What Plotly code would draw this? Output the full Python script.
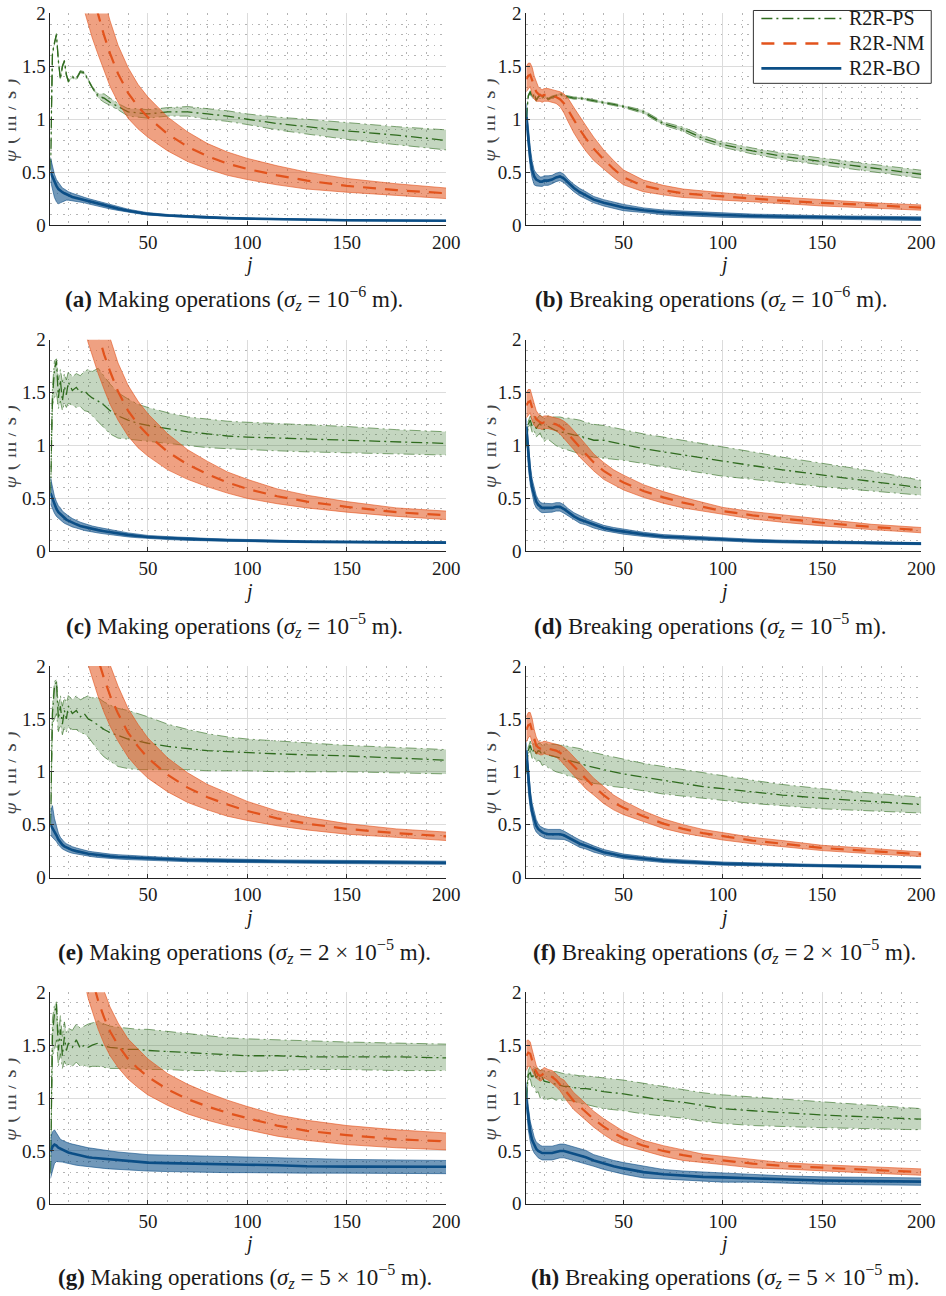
import plotly.graph_objects as go

# ---------------------------------------------------------------------------
# Sampled iterations j and the three estimators per panel (mean, lower, upper)
# ---------------------------------------------------------------------------
J = [1, 2, 3, 4, 5, 6, 7, 8, 9, 10, 12, 14, 16, 18, 20, 22, 25, 28, 31, 35,
     40, 45, 50, 60, 70, 80, 90, 100, 115, 130, 150, 175, 200]

# (a) Making, sigma_z = 1e-6
a_ps_mean = [0.52, 1.62, 1.72, 1.80, 1.55, 1.38, 1.50, 1.55, 1.42, 1.36, 1.40, 1.38, 1.45, 1.44, 1.37, 1.30, 1.22, 1.20, 1.16, 1.12, 1.07, 1.06, 1.05, 1.07, 1.07, 1.05, 1.03, 1.00, 0.96, 0.93, 0.89, 0.85, 0.80]
a_ps_lo = [0.51, 1.61, 1.71, 1.79, 1.54, 1.37, 1.49, 1.54, 1.41, 1.35, 1.39, 1.37, 1.44, 1.43, 1.36, 1.29, 1.20, 1.16, 1.13, 1.09, 1.03, 1.02, 1.01, 1.03, 1.03, 1.00, 0.98, 0.95, 0.90, 0.86, 0.81, 0.76, 0.71]
a_ps_hi = [0.53, 1.63, 1.73, 1.81, 1.56, 1.39, 1.51, 1.56, 1.43, 1.37, 1.41, 1.39, 1.46, 1.45, 1.38, 1.31, 1.24, 1.24, 1.20, 1.15, 1.10, 1.10, 1.09, 1.11, 1.12, 1.10, 1.08, 1.05, 1.02, 1.00, 0.97, 0.93, 0.90]
a_nm_mean = [12.0, 9.0, 7.5, 6.5, 5.8, 5.2, 4.7, 4.3, 4.0, 3.7, 3.3, 3.0, 2.7, 2.5, 2.33, 2.19, 1.99, 1.79, 1.62, 1.43, 1.25, 1.12, 1.02, 0.86, 0.74, 0.65, 0.58, 0.53, 0.47, 0.42, 0.37, 0.33, 0.30]
a_nm_lo = [9.7, 7.3, 6.1, 5.3, 4.7, 4.2, 3.8, 3.5, 3.24, 3.0, 2.67, 2.43, 2.19, 2.03, 1.89, 1.77, 1.61, 1.45, 1.31, 1.16, 1.01, 0.91, 0.83, 0.70, 0.60, 0.53, 0.47, 0.43, 0.38, 0.34, 0.31, 0.28, 0.25]
a_nm_hi = [14.3, 10.7, 8.9, 7.7, 6.9, 6.2, 5.6, 5.1, 4.76, 4.4, 3.93, 3.57, 3.21, 2.98, 2.77, 2.61, 2.37, 2.13, 1.93, 1.70, 1.49, 1.33, 1.21, 1.02, 0.88, 0.77, 0.69, 0.63, 0.56, 0.50, 0.44, 0.39, 0.35]
a_bo_mean = [0.50, 0.45, 0.40, 0.37, 0.34, 0.32, 0.31, 0.30, 0.29, 0.28, 0.265, 0.255, 0.245, 0.235, 0.225, 0.215, 0.20, 0.185, 0.17, 0.155, 0.135, 0.12, 0.105, 0.09, 0.08, 0.07, 0.065, 0.06, 0.055, 0.05, 0.045, 0.042, 0.04]
a_bo_lo = [0.42, 0.33, 0.26, 0.22, 0.20, 0.21, 0.22, 0.23, 0.235, 0.235, 0.23, 0.225, 0.215, 0.21, 0.20, 0.19, 0.18, 0.165, 0.152, 0.138, 0.12, 0.107, 0.094, 0.08, 0.071, 0.062, 0.058, 0.053, 0.049, 0.044, 0.04, 0.037, 0.035]
a_bo_hi = [0.64, 0.55, 0.48, 0.43, 0.40, 0.37, 0.35, 0.34, 0.325, 0.315, 0.30, 0.285, 0.275, 0.262, 0.25, 0.24, 0.222, 0.205, 0.19, 0.172, 0.15, 0.133, 0.117, 0.10, 0.089, 0.078, 0.072, 0.067, 0.061, 0.056, 0.05, 0.047, 0.045]

# (b) Breaking, sigma_z = 1e-6
b_ps_mean = [1.00, 1.22, 1.26, 1.20, 1.24, 1.18, 1.21, 1.23, 1.20, 1.22, 1.19, 1.21, 1.22, 1.24, 1.22, 1.21, 1.20, 1.20, 1.19, 1.18, 1.16, 1.14, 1.12, 1.07, 0.96, 0.905, 0.82, 0.76, 0.70, 0.65, 0.60, 0.54, 0.48]
b_ps_lo = [0.99, 1.21, 1.25, 1.19, 1.23, 1.17, 1.20, 1.22, 1.19, 1.21, 1.18, 1.20, 1.21, 1.23, 1.21, 1.20, 1.19, 1.19, 1.18, 1.17, 1.15, 1.13, 1.11, 1.055, 0.945, 0.885, 0.795, 0.735, 0.672, 0.62, 0.567, 0.505, 0.442]
b_ps_hi = [1.01, 1.23, 1.27, 1.21, 1.25, 1.19, 1.22, 1.24, 1.21, 1.23, 1.20, 1.22, 1.23, 1.25, 1.23, 1.22, 1.21, 1.21, 1.20, 1.19, 1.17, 1.15, 1.13, 1.085, 0.975, 0.925, 0.845, 0.785, 0.728, 0.68, 0.633, 0.575, 0.518]
b_nm_mean = [1.38, 1.41, 1.42, 1.36, 1.30, 1.26, 1.24, 1.23, 1.22, 1.23, 1.23, 1.22, 1.21, 1.19, 1.15, 1.09, 0.99, 0.90, 0.82, 0.72, 0.62, 0.53, 0.45, 0.37, 0.33, 0.30, 0.285, 0.27, 0.25, 0.23, 0.21, 0.185, 0.165]
b_nm_lo = [1.26, 1.29, 1.31, 1.23, 1.19, 1.17, 1.17, 1.17, 1.16, 1.17, 1.17, 1.16, 1.15, 1.12, 1.06, 0.98, 0.87, 0.78, 0.70, 0.61, 0.53, 0.45, 0.38, 0.315, 0.285, 0.26, 0.25, 0.235, 0.22, 0.20, 0.18, 0.16, 0.14]
b_nm_hi = [1.50, 1.53, 1.53, 1.49, 1.41, 1.35, 1.31, 1.29, 1.28, 1.29, 1.29, 1.28, 1.27, 1.26, 1.24, 1.20, 1.11, 1.02, 0.94, 0.83, 0.71, 0.61, 0.52, 0.425, 0.375, 0.34, 0.32, 0.305, 0.28, 0.26, 0.24, 0.21, 0.19]
b_bo_mean = [1.02, 0.80, 0.63, 0.52, 0.46, 0.43, 0.42, 0.41, 0.41, 0.42, 0.42, 0.43, 0.45, 0.46, 0.44, 0.40, 0.35, 0.31, 0.28, 0.24, 0.21, 0.185, 0.165, 0.14, 0.12, 0.11, 0.10, 0.095, 0.085, 0.08, 0.07, 0.065, 0.06]
b_bo_lo = [0.95, 0.70, 0.54, 0.44, 0.38, 0.37, 0.37, 0.365, 0.365, 0.375, 0.375, 0.39, 0.41, 0.42, 0.40, 0.365, 0.315, 0.275, 0.245, 0.21, 0.18, 0.155, 0.135, 0.118, 0.098, 0.088, 0.078, 0.073, 0.067, 0.062, 0.052, 0.047, 0.042]
b_bo_hi = [1.15, 0.92, 0.73, 0.60, 0.52, 0.49, 0.47, 0.455, 0.455, 0.465, 0.465, 0.47, 0.49, 0.50, 0.48, 0.435, 0.385, 0.345, 0.315, 0.27, 0.24, 0.215, 0.195, 0.162, 0.142, 0.132, 0.122, 0.117, 0.103, 0.098, 0.088, 0.083, 0.078]

# (c) Making, sigma_z = 1e-5
c_ps_mean = [0.55, 1.45, 1.72, 1.80, 1.45, 1.62, 1.42, 1.56, 1.48, 1.60, 1.52, 1.55, 1.50, 1.52, 1.48, 1.45, 1.42, 1.38, 1.33, 1.28, 1.24, 1.21, 1.19, 1.16, 1.13, 1.11, 1.09, 1.08, 1.07, 1.06, 1.05, 1.03, 1.02]
c_ps_lo = [0.52, 1.38, 1.45, 1.50, 1.35, 1.42, 1.33, 1.40, 1.36, 1.40, 1.38, 1.36, 1.37, 1.33, 1.32, 1.28, 1.22, 1.16, 1.11, 1.07, 1.06, 1.05, 1.04, 1.02, 1.00, 0.98, 0.97, 0.96, 0.95, 0.94, 0.93, 0.92, 0.91]
c_ps_hi = [0.58, 1.55, 1.80, 1.82, 1.62, 1.72, 1.60, 1.68, 1.62, 1.70, 1.65, 1.68, 1.66, 1.70, 1.72, 1.70, 1.73, 1.65, 1.58, 1.50, 1.44, 1.39, 1.36, 1.31, 1.27, 1.25, 1.23, 1.22, 1.21, 1.20, 1.18, 1.15, 1.13]
c_nm_mean = [12.5, 9.4, 7.8, 6.8, 6.0, 5.4, 4.9, 4.5, 4.15, 3.85, 3.4, 3.1, 2.8, 2.58, 2.40, 2.25, 2.05, 1.86, 1.70, 1.51, 1.33, 1.20, 1.10, 0.94, 0.82, 0.73, 0.65, 0.59, 0.52, 0.47, 0.42, 0.37, 0.34]
c_nm_lo = [10.2, 7.7, 6.4, 5.6, 4.9, 4.4, 4.0, 3.7, 3.4, 3.16, 2.79, 2.54, 2.30, 2.12, 1.97, 1.85, 1.68, 1.53, 1.39, 1.24, 1.09, 0.98, 0.90, 0.77, 0.68, 0.61, 0.55, 0.50, 0.45, 0.41, 0.37, 0.33, 0.30]
c_nm_hi = [14.8, 11.1, 9.2, 8.0, 7.1, 6.4, 5.8, 5.3, 4.9, 4.54, 4.01, 3.66, 3.30, 3.04, 2.83, 2.65, 2.42, 2.19, 2.01, 1.78, 1.57, 1.42, 1.30, 1.11, 0.96, 0.85, 0.75, 0.68, 0.59, 0.53, 0.47, 0.41, 0.38]
c_bo_mean = [0.55, 0.50, 0.44, 0.40, 0.37, 0.35, 0.33, 0.315, 0.30, 0.29, 0.27, 0.255, 0.24, 0.23, 0.22, 0.21, 0.20, 0.19, 0.18, 0.17, 0.155, 0.145, 0.135, 0.125, 0.115, 0.11, 0.105, 0.10, 0.095, 0.09, 0.088, 0.085, 0.082]
c_bo_lo = [0.45, 0.40, 0.36, 0.33, 0.31, 0.29, 0.28, 0.265, 0.255, 0.245, 0.23, 0.22, 0.205, 0.197, 0.19, 0.181, 0.173, 0.165, 0.157, 0.148, 0.136, 0.128, 0.12, 0.111, 0.103, 0.098, 0.094, 0.09, 0.086, 0.081, 0.079, 0.077, 0.074]
c_bo_hi = [0.70, 0.60, 0.52, 0.47, 0.43, 0.41, 0.38, 0.365, 0.345, 0.335, 0.31, 0.29, 0.275, 0.263, 0.25, 0.239, 0.227, 0.215, 0.203, 0.192, 0.174, 0.162, 0.15, 0.139, 0.127, 0.122, 0.116, 0.11, 0.104, 0.099, 0.097, 0.093, 0.09]

# (d) Breaking, sigma_z = 1e-5
d_ps_mean = [1.00, 1.20, 1.24, 1.18, 1.22, 1.16, 1.19, 1.21, 1.17, 1.15, 1.18, 1.16, 1.14, 1.13, 1.12, 1.11, 1.10, 1.09, 1.07, 1.05, 1.05, 1.03, 1.01, 0.97, 0.94, 0.91, 0.88, 0.85, 0.81, 0.77, 0.72, 0.66, 0.60]
d_ps_lo = [0.98, 1.17, 1.20, 1.12, 1.14, 1.08, 1.10, 1.12, 1.07, 1.04, 1.06, 1.03, 1.00, 0.98, 0.97, 0.96, 0.94, 0.92, 0.90, 0.89, 0.88, 0.87, 0.86, 0.83, 0.80, 0.77, 0.74, 0.71, 0.68, 0.65, 0.61, 0.57, 0.53]
d_ps_hi = [1.02, 1.23, 1.28, 1.24, 1.28, 1.24, 1.27, 1.29, 1.27, 1.26, 1.28, 1.27, 1.27, 1.27, 1.26, 1.26, 1.25, 1.24, 1.22, 1.20, 1.19, 1.17, 1.15, 1.11, 1.08, 1.05, 1.02, 0.99, 0.94, 0.89, 0.83, 0.76, 0.67]
d_nm_mean = [1.38, 1.41, 1.42, 1.35, 1.29, 1.25, 1.23, 1.22, 1.21, 1.22, 1.22, 1.21, 1.20, 1.18, 1.15, 1.11, 1.05, 0.98, 0.92, 0.84, 0.76, 0.70, 0.65, 0.57, 0.51, 0.46, 0.42, 0.38, 0.34, 0.31, 0.27, 0.23, 0.20]
d_nm_lo = [1.26, 1.29, 1.31, 1.23, 1.19, 1.17, 1.16, 1.16, 1.15, 1.16, 1.16, 1.15, 1.14, 1.11, 1.07, 1.02, 0.96, 0.89, 0.83, 0.76, 0.68, 0.63, 0.58, 0.51, 0.455, 0.41, 0.38, 0.345, 0.305, 0.275, 0.24, 0.205, 0.175]
d_nm_hi = [1.50, 1.53, 1.53, 1.47, 1.39, 1.33, 1.30, 1.28, 1.27, 1.28, 1.28, 1.27, 1.26, 1.25, 1.23, 1.20, 1.14, 1.07, 1.01, 0.92, 0.84, 0.77, 0.72, 0.63, 0.565, 0.51, 0.46, 0.415, 0.375, 0.345, 0.30, 0.255, 0.225]
d_bo_mean = [1.18, 0.90, 0.72, 0.60, 0.52, 0.47, 0.44, 0.42, 0.41, 0.41, 0.41, 0.41, 0.42, 0.42, 0.40, 0.37, 0.33, 0.30, 0.28, 0.25, 0.22, 0.20, 0.185, 0.16, 0.14, 0.13, 0.12, 0.11, 0.10, 0.092, 0.085, 0.078, 0.072]
d_bo_lo = [1.10, 0.80, 0.63, 0.52, 0.45, 0.41, 0.39, 0.375, 0.365, 0.365, 0.365, 0.37, 0.38, 0.38, 0.36, 0.335, 0.295, 0.265, 0.25, 0.22, 0.195, 0.175, 0.162, 0.14, 0.122, 0.113, 0.104, 0.095, 0.086, 0.079, 0.073, 0.067, 0.062]
d_bo_hi = [1.26, 1.00, 0.81, 0.68, 0.59, 0.53, 0.49, 0.465, 0.455, 0.455, 0.455, 0.45, 0.46, 0.46, 0.44, 0.405, 0.365, 0.335, 0.31, 0.28, 0.245, 0.225, 0.208, 0.18, 0.158, 0.147, 0.136, 0.125, 0.114, 0.105, 0.097, 0.089, 0.082]

# (e) Making, sigma_z = 2e-5
e_ps_mean = [0.50, 1.55, 1.80, 1.85, 1.50, 1.62, 1.45, 1.58, 1.50, 1.62, 1.55, 1.58, 1.52, 1.55, 1.50, 1.48, 1.44, 1.40, 1.37, 1.34, 1.31, 1.29, 1.27, 1.24, 1.22, 1.20, 1.19, 1.18, 1.17, 1.16, 1.15, 1.13, 1.11]
e_ps_lo = [0.48, 1.45, 1.50, 1.55, 1.38, 1.45, 1.35, 1.42, 1.38, 1.42, 1.40, 1.40, 1.37, 1.36, 1.33, 1.28, 1.20, 1.14, 1.10, 1.05, 1.03, 1.02, 1.02, 1.02, 1.02, 1.01, 1.01, 1.01, 1.00, 1.00, 1.00, 0.99, 0.98]
e_ps_hi = [0.52, 1.62, 1.85, 1.88, 1.62, 1.72, 1.62, 1.70, 1.65, 1.72, 1.68, 1.72, 1.68, 1.70, 1.72, 1.70, 1.70, 1.66, 1.63, 1.60, 1.58, 1.55, 1.52, 1.45, 1.40, 1.36, 1.33, 1.31, 1.29, 1.27, 1.25, 1.23, 1.21]
e_nm_mean = [12.8, 9.6, 8.0, 7.0, 6.2, 5.5, 5.0, 4.6, 4.25, 3.95, 3.5, 3.15, 2.85, 2.62, 2.43, 2.27, 2.06, 1.88, 1.72, 1.55, 1.37, 1.24, 1.13, 0.97, 0.85, 0.76, 0.69, 0.63, 0.56, 0.51, 0.46, 0.42, 0.39]
e_nm_lo = [10.6, 8.0, 6.6, 5.8, 5.1, 4.6, 4.15, 3.8, 3.5, 3.28, 2.9, 2.61, 2.37, 2.17, 2.01, 1.88, 1.71, 1.56, 1.43, 1.29, 1.14, 1.03, 0.94, 0.81, 0.71, 0.64, 0.58, 0.54, 0.49, 0.45, 0.41, 0.38, 0.35]
e_nm_hi = [15.0, 11.2, 9.4, 8.2, 7.3, 6.4, 5.85, 5.4, 5.0, 4.62, 4.1, 3.69, 3.33, 3.07, 2.85, 2.66, 2.41, 2.20, 2.01, 1.81, 1.60, 1.45, 1.32, 1.13, 0.99, 0.88, 0.80, 0.72, 0.63, 0.57, 0.51, 0.46, 0.43]
e_bo_mean = [0.50, 0.47, 0.44, 0.40, 0.36, 0.33, 0.31, 0.295, 0.285, 0.275, 0.26, 0.25, 0.24, 0.232, 0.225, 0.22, 0.212, 0.205, 0.20, 0.195, 0.19, 0.185, 0.18, 0.172, 0.166, 0.162, 0.158, 0.155, 0.152, 0.15, 0.147, 0.144, 0.14]
e_bo_lo = [0.40, 0.38, 0.37, 0.34, 0.31, 0.285, 0.27, 0.26, 0.25, 0.242, 0.23, 0.222, 0.214, 0.207, 0.201, 0.197, 0.19, 0.184, 0.18, 0.175, 0.17, 0.166, 0.162, 0.155, 0.15, 0.146, 0.143, 0.14, 0.137, 0.135, 0.132, 0.129, 0.125]
e_bo_hi = [0.62, 0.68, 0.56, 0.48, 0.42, 0.38, 0.355, 0.335, 0.32, 0.31, 0.292, 0.28, 0.268, 0.258, 0.25, 0.244, 0.235, 0.227, 0.222, 0.216, 0.21, 0.204, 0.198, 0.19, 0.183, 0.178, 0.174, 0.17, 0.167, 0.165, 0.162, 0.159, 0.155]

# (f) Breaking, sigma_z = 2e-5
f_ps_mean = [1.00, 1.20, 1.25, 1.18, 1.22, 1.17, 1.20, 1.19, 1.16, 1.18, 1.16, 1.15, 1.14, 1.13, 1.12, 1.11, 1.10, 1.08, 1.06, 1.04, 1.02, 1.00, 0.98, 0.95, 0.92, 0.89, 0.86, 0.84, 0.81, 0.78, 0.75, 0.72, 0.69]
f_ps_lo = [0.98, 1.17, 1.20, 1.12, 1.14, 1.09, 1.11, 1.10, 1.06, 1.07, 1.04, 1.02, 1.00, 0.99, 0.98, 0.96, 0.95, 0.93, 0.91, 0.89, 0.88, 0.86, 0.85, 0.82, 0.79, 0.77, 0.75, 0.73, 0.70, 0.68, 0.65, 0.63, 0.61]
f_ps_hi = [1.02, 1.23, 1.29, 1.24, 1.28, 1.24, 1.27, 1.27, 1.25, 1.27, 1.26, 1.26, 1.26, 1.25, 1.25, 1.24, 1.23, 1.22, 1.20, 1.18, 1.16, 1.14, 1.12, 1.08, 1.05, 1.02, 0.99, 0.96, 0.92, 0.88, 0.84, 0.80, 0.76]
f_nm_mean = [1.40, 1.44, 1.45, 1.38, 1.30, 1.25, 1.23, 1.22, 1.22, 1.23, 1.22, 1.21, 1.20, 1.18, 1.15, 1.11, 1.05, 0.99, 0.93, 0.86, 0.78, 0.71, 0.66, 0.58, 0.51, 0.46, 0.42, 0.39, 0.35, 0.32, 0.28, 0.25, 0.22]
f_nm_lo = [1.28, 1.32, 1.34, 1.26, 1.20, 1.17, 1.17, 1.16, 1.16, 1.17, 1.16, 1.15, 1.14, 1.11, 1.07, 1.02, 0.96, 0.90, 0.84, 0.78, 0.70, 0.64, 0.595, 0.53, 0.465, 0.42, 0.385, 0.355, 0.32, 0.29, 0.255, 0.225, 0.198]
f_nm_hi = [1.52, 1.56, 1.56, 1.50, 1.40, 1.33, 1.29, 1.28, 1.28, 1.29, 1.28, 1.27, 1.26, 1.25, 1.23, 1.20, 1.14, 1.08, 1.02, 0.94, 0.86, 0.78, 0.725, 0.63, 0.555, 0.50, 0.455, 0.425, 0.38, 0.35, 0.305, 0.275, 0.242]
f_bo_mean = [1.20, 0.92, 0.74, 0.62, 0.54, 0.49, 0.46, 0.44, 0.43, 0.42, 0.41, 0.41, 0.41, 0.41, 0.40, 0.38, 0.35, 0.32, 0.30, 0.27, 0.24, 0.22, 0.20, 0.18, 0.16, 0.15, 0.14, 0.132, 0.125, 0.118, 0.112, 0.106, 0.10]
f_bo_lo = [1.12, 0.82, 0.65, 0.54, 0.47, 0.43, 0.41, 0.395, 0.385, 0.375, 0.365, 0.365, 0.365, 0.365, 0.36, 0.345, 0.315, 0.285, 0.27, 0.24, 0.215, 0.197, 0.178, 0.16, 0.142, 0.133, 0.124, 0.117, 0.111, 0.105, 0.10, 0.094, 0.089]
f_bo_hi = [1.28, 1.02, 0.83, 0.70, 0.61, 0.55, 0.51, 0.485, 0.475, 0.465, 0.455, 0.455, 0.455, 0.455, 0.44, 0.415, 0.385, 0.355, 0.33, 0.30, 0.265, 0.243, 0.222, 0.20, 0.178, 0.167, 0.156, 0.147, 0.139, 0.131, 0.124, 0.118, 0.111]

# (g) Making, sigma_z = 5e-5
g_ps_mean = [0.30, 1.60, 1.80, 1.89, 1.45, 1.65, 1.40, 1.58, 1.45, 1.52, 1.48, 1.55, 1.47, 1.50, 1.48, 1.50, 1.52, 1.49, 1.48, 1.47, 1.46, 1.46, 1.45, 1.44, 1.43, 1.42, 1.41, 1.40, 1.40, 1.39, 1.39, 1.39, 1.38]
g_ps_lo = [0.28, 1.40, 1.45, 1.55, 1.30, 1.42, 1.28, 1.35, 1.30, 1.32, 1.30, 1.34, 1.30, 1.31, 1.29, 1.30, 1.30, 1.29, 1.28, 1.28, 1.28, 1.27, 1.27, 1.27, 1.26, 1.26, 1.25, 1.25, 1.26, 1.27, 1.27, 1.26, 1.26]
g_ps_hi = [0.32, 1.75, 1.88, 1.91, 1.60, 1.78, 1.58, 1.72, 1.62, 1.66, 1.64, 1.70, 1.66, 1.68, 1.70, 1.71, 1.73, 1.70, 1.68, 1.67, 1.66, 1.65, 1.65, 1.63, 1.61, 1.59, 1.57, 1.56, 1.55, 1.54, 1.53, 1.52, 1.51]
g_nm_mean = [12.0, 9.2, 7.7, 6.7, 6.0, 5.4, 4.9, 4.5, 4.15, 3.85, 3.35, 3.0, 2.7, 2.45, 2.25, 2.12, 1.92, 1.76, 1.63, 1.50, 1.37, 1.28, 1.20, 1.08, 0.99, 0.92, 0.86, 0.81, 0.74, 0.69, 0.65, 0.61, 0.59]
g_nm_lo = [10.3, 7.9, 6.6, 5.8, 5.2, 4.6, 4.2, 3.9, 3.57, 3.31, 2.88, 2.58, 2.32, 2.11, 1.94, 1.82, 1.65, 1.51, 1.40, 1.29, 1.18, 1.10, 1.03, 0.93, 0.85, 0.79, 0.74, 0.70, 0.64, 0.60, 0.56, 0.53, 0.51]
g_nm_hi = [13.7, 10.5, 8.8, 7.6, 6.8, 6.2, 5.6, 5.1, 4.73, 4.39, 3.82, 3.42, 3.08, 2.79, 2.57, 2.42, 2.19, 2.01, 1.86, 1.71, 1.56, 1.46, 1.37, 1.23, 1.13, 1.05, 0.98, 0.92, 0.84, 0.79, 0.74, 0.70, 0.67]
g_bo_mean = [0.49, 0.54, 0.56, 0.55, 0.53, 0.52, 0.51, 0.50, 0.49, 0.485, 0.475, 0.465, 0.455, 0.45, 0.44, 0.435, 0.43, 0.42, 0.415, 0.41, 0.40, 0.395, 0.39, 0.385, 0.38, 0.375, 0.37, 0.37, 0.365, 0.355, 0.352, 0.35, 0.35]
g_bo_lo = [0.24, 0.32, 0.38, 0.40, 0.40, 0.40, 0.395, 0.39, 0.385, 0.38, 0.37, 0.365, 0.36, 0.355, 0.35, 0.345, 0.34, 0.335, 0.33, 0.325, 0.32, 0.315, 0.31, 0.305, 0.30, 0.30, 0.295, 0.295, 0.29, 0.29, 0.29, 0.285, 0.285]
g_bo_hi = [0.62, 0.68, 0.70, 0.67, 0.63, 0.61, 0.60, 0.59, 0.58, 0.575, 0.565, 0.555, 0.545, 0.54, 0.53, 0.525, 0.515, 0.505, 0.50, 0.49, 0.48, 0.47, 0.465, 0.46, 0.455, 0.45, 0.445, 0.44, 0.435, 0.425, 0.42, 0.415, 0.41]

# (h) Breaking, sigma_z = 5e-5
h_ps_mean = [0.99, 1.22, 1.24, 1.18, 1.26, 1.19, 1.22, 1.17, 1.20, 1.16, 1.15, 1.14, 1.13, 1.12, 1.11, 1.11, 1.10, 1.09, 1.09, 1.08, 1.06, 1.05, 1.04, 1.01, 0.98, 0.96, 0.93, 0.90, 0.88, 0.86, 0.84, 0.82, 0.80]
h_ps_lo = [0.97, 1.18, 1.18, 1.10, 1.12, 1.05, 1.06, 1.00, 1.02, 0.98, 0.99, 1.00, 0.98, 0.99, 0.97, 0.98, 0.97, 0.95, 0.94, 0.92, 0.90, 0.89, 0.88, 0.85, 0.83, 0.81, 0.78, 0.76, 0.74, 0.73, 0.72, 0.71, 0.70]
h_ps_hi = [1.01, 1.26, 1.30, 1.26, 1.30, 1.28, 1.28, 1.26, 1.27, 1.25, 1.25, 1.25, 1.25, 1.24, 1.23, 1.23, 1.22, 1.21, 1.21, 1.20, 1.19, 1.18, 1.17, 1.14, 1.11, 1.08, 1.05, 1.03, 1.01, 0.99, 0.96, 0.93, 0.90]
h_nm_mean = [1.40, 1.43, 1.42, 1.35, 1.29, 1.25, 1.22, 1.21, 1.22, 1.24, 1.22, 1.20, 1.17, 1.13, 1.09, 1.04, 0.97, 0.92, 0.87, 0.80, 0.73, 0.67, 0.62, 0.55, 0.50, 0.46, 0.43, 0.41, 0.38, 0.36, 0.34, 0.32, 0.30]
h_nm_lo = [1.26, 1.30, 1.30, 1.25, 1.22, 1.19, 1.17, 1.16, 1.17, 1.19, 1.17, 1.14, 1.11, 1.07, 1.01, 0.96, 0.89, 0.84, 0.79, 0.725, 0.655, 0.595, 0.555, 0.50, 0.45, 0.41, 0.39, 0.37, 0.34, 0.33, 0.31, 0.29, 0.27]
h_nm_hi = [1.54, 1.55, 1.53, 1.46, 1.37, 1.31, 1.27, 1.26, 1.27, 1.29, 1.27, 1.26, 1.23, 1.19, 1.17, 1.12, 1.05, 1.00, 0.95, 0.875, 0.805, 0.745, 0.685, 0.60, 0.55, 0.51, 0.47, 0.45, 0.42, 0.39, 0.37, 0.35, 0.33]
h_bo_mean = [0.99, 0.80, 0.68, 0.60, 0.55, 0.52, 0.50, 0.49, 0.48, 0.48, 0.48, 0.48, 0.49, 0.50, 0.50, 0.49, 0.47, 0.455, 0.44, 0.41, 0.38, 0.355, 0.335, 0.30, 0.28, 0.265, 0.255, 0.25, 0.24, 0.23, 0.22, 0.215, 0.21]
h_bo_lo = [0.92, 0.70, 0.59, 0.52, 0.48, 0.455, 0.435, 0.425, 0.415, 0.415, 0.415, 0.415, 0.425, 0.435, 0.435, 0.425, 0.405, 0.39, 0.375, 0.355, 0.325, 0.30, 0.28, 0.245, 0.235, 0.22, 0.21, 0.205, 0.205, 0.195, 0.185, 0.18, 0.175]
h_bo_hi = [1.15, 0.92, 0.78, 0.69, 0.63, 0.585, 0.565, 0.555, 0.545, 0.545, 0.545, 0.545, 0.555, 0.565, 0.565, 0.555, 0.535, 0.52, 0.505, 0.465, 0.435, 0.41, 0.39, 0.355, 0.325, 0.31, 0.30, 0.295, 0.275, 0.265, 0.255, 0.25, 0.245]

# Tick labels
X_TICKS = [50, 100, 150, 200]
Y_TICKS = [0, 0.5, 1, 1.5, 2]
Y_TICK_TEXT = ["0", "0.5", "1", "1.5", "2"]

SERIES_NAMES = ["R2R-PS", "R2R-NM", "R2R-BO"]

# Panel captions: letter, operation type, noise level
CAPTIONS = [
    ("a", "Making", "10<sup>−6</sup>"),
    ("b", "Breaking", "10<sup>−6</sup>"),
    ("c", "Making", "10<sup>−5</sup>"),
    ("d", "Breaking", "10<sup>−5</sup>"),
    ("e", "Making", "2 × 10<sup>−5</sup>"),
    ("f", "Breaking", "2 × 10<sup>−5</sup>"),
    ("g", "Making", "5 × 10<sup>−5</sup>"),
    ("h", "Breaking", "5 × 10<sup>−5</sup>"),
]

PANEL_DATA = {
    "a": [(a_ps_mean, a_ps_lo, a_ps_hi), (a_nm_mean, a_nm_lo, a_nm_hi), (a_bo_mean, a_bo_lo, a_bo_hi)],
    "b": [(b_ps_mean, b_ps_lo, b_ps_hi), (b_nm_mean, b_nm_lo, b_nm_hi), (b_bo_mean, b_bo_lo, b_bo_hi)],
    "c": [(c_ps_mean, c_ps_lo, c_ps_hi), (c_nm_mean, c_nm_lo, c_nm_hi), (c_bo_mean, c_bo_lo, c_bo_hi)],
    "d": [(d_ps_mean, d_ps_lo, d_ps_hi), (d_nm_mean, d_nm_lo, d_nm_hi), (d_bo_mean, d_bo_lo, d_bo_hi)],
    "e": [(e_ps_mean, e_ps_lo, e_ps_hi), (e_nm_mean, e_nm_lo, e_nm_hi), (e_bo_mean, e_bo_lo, e_bo_hi)],
    "f": [(f_ps_mean, f_ps_lo, f_ps_hi), (f_nm_mean, f_nm_lo, f_nm_hi), (f_bo_mean, f_bo_lo, f_bo_hi)],
    "g": [(g_ps_mean, g_ps_lo, g_ps_hi), (g_nm_mean, g_nm_lo, g_nm_hi), (g_bo_mean, g_bo_lo, g_bo_hi)],
    "h": [(h_ps_mean, h_ps_lo, h_ps_hi), (h_nm_mean, h_nm_lo, h_nm_hi), (h_bo_mean, h_bo_lo, h_bo_hi)],
}

# ---------------------------------------------------------------------------
# Styling and page geometry (layout positions given in page pixels)
# ---------------------------------------------------------------------------
W, H = 946, 1296          # figure size
PAGE_SCALE = 0.986        # page pixels per figure pixel
PAGE_TOP = 9.5            # page pixels above the figure
FONT = "Liberation Serif"
TXT = "#1a1a1a"

STYLES = [
    # line colour, fill colour, mean dash, mean width, edge dash
    dict(color="#2f6b1e", fill="rgba(60,120,45,0.30)", dash="11px,4px,2px,4px", width=1.3, edge_dash="11px,4px,2px,4px"),
    dict(color="#e2531c", fill="rgba(226,83,28,0.55)", dash="13px,9px", width=2.2, edge_dash="solid"),
    dict(color="#0b4e86", fill="rgba(11,78,134,0.58)", dash="solid", width=2.6, edge_dash="solid"),
]

COL_X = [(50.5, 446.5), (526.7, 922.0)]   # page extents of the j axis
ROW_TOP, ROW_H, ROW_STEP = 13, 212, 327   # page extents of the psi axis
CAPTION_CX = [234.5, 711.5, 234.5, 710.5, 245, 725, 245, 725.5]  # caption centres


def fx(px):
    return (px / PAGE_SCALE) / W


def fy(py):
    return 1 - ((py - PAGE_TOP) / PAGE_SCALE) / H


fig = go.Figure()
annotations = []
shapes = []

for k, (letter, op, sig) in enumerate(CAPTIONS):
    row, col = divmod(k, 2)
    suffix = "" if k == 0 else str(k + 1)
    xa, ya = "x" + suffix, "y" + suffix
    x0, x1 = COL_X[col]
    top = ROW_TOP + row * ROW_STEP
    bottom = top + ROW_H

    for s, (mean, lo, hi) in enumerate(PANEL_DATA[letter]):
        st = STYLES[s]
        fig.add_trace(go.Scatter(
            x=J, y=lo, mode="lines", xaxis=xa, yaxis=ya,
            line=dict(color=st["color"], width=0.6, dash=st["edge_dash"]),
            showlegend=False, hoverinfo="skip"))
        fig.add_trace(go.Scatter(
            x=J, y=hi, mode="lines", xaxis=xa, yaxis=ya,
            line=dict(color=st["color"], width=0.6, dash=st["edge_dash"]),
            fill="tonexty", fillcolor=st["fill"],
            showlegend=False, hoverinfo="skip"))
        fig.add_trace(go.Scatter(
            x=J, y=mean, mode="lines", xaxis=xa, yaxis=ya,
            name=SERIES_NAMES[s],
            line=dict(color=st["color"], width=st["width"], dash=st["dash"]),
            showlegend=False))

    axis_common = dict(
        showline=True, linecolor="#222", linewidth=1,
        ticks="inside", ticklen=4, tickcolor="#333",
        showgrid=True, gridcolor="#dcdcdc", gridwidth=1,
        zeroline=False, tickfont=dict(family=FONT, size=19, color=TXT),
    )
    fig.update_layout(**{
        "xaxis" + suffix: dict(
            axis_common, domain=[fx(x0), fx(x1)], anchor=ya, range=[1, 200],
            tickvals=X_TICKS,
            minor=dict(dtick=10, tick0=0, showgrid=True, gridcolor="#b4b4b4",
                       griddash="1.5px,5px", gridwidth=1, ticks="")),
        "yaxis" + suffix: dict(
            axis_common, domain=[fy(bottom), fy(top)], anchor=xa, range=[0, 2],
            tickvals=Y_TICKS, ticktext=Y_TICK_TEXT,
            minor=dict(dtick=0.1, tick0=0, showgrid=True, gridcolor="#b4b4b4",
                       griddash="1.5px,5px", gridwidth=1, ticks="")),
    })

    cx = (x0 + x1) / 2
    # axis title j
    annotations.append(dict(
        x=fx(cx), y=fy(bottom + 40), xref="paper", yref="paper",
        text="<i>j</i>", showarrow=False, xanchor="center", yanchor="middle",
        font=dict(family=FONT, size=20, color=TXT)))
    # caption
    cap_y = bottom + 74 if row < 3 else bottom + 73
    annotations.append(dict(
        x=fx(CAPTION_CX[k]), y=fy(cap_y), xref="paper", yref="paper",
        text=f"<b>({letter})</b> {op} operations (<i>σ<sub>z</sub></i> = {sig} m).",
        showarrow=False, xanchor="center", yanchor="middle",
        font=dict(family=FONT, size=23, color=TXT)))
    # y-axis title (trimmed at the left edge of each sub-figure)
    lab_x = 9 if col == 0 else 489
    annotations.append(dict(
        x=fx(lab_x), y=fy(top + 107), xref="paper", yref="paper",
        text="<i>ψ</i> ( m / s )", textangle=-90, showarrow=False,
        xanchor="center", yanchor="middle",
        font=dict(family=FONT, size=21, color="#444")))

# white strips that trim the y-axis titles
for k in range(8):
    row, col = divmod(k, 2)
    top = ROW_TOP + row * ROW_STEP
    left, right = (0, 6.5) if col == 0 else (462, 486)
    annotations.append(dict(
        x=fx(left), y=fy(top + 107), xref="paper", yref="paper",
        text=" ", showarrow=False, xanchor="left", yanchor="middle",
        width=(right - left) / PAGE_SCALE, height=140, bgcolor="white",
        borderpad=0, font=dict(size=2)))

# legend box drawn on the top-right panel
LEG_X0, LEG_X1, LEG_Y0, LEG_Y1 = 754, 932, 10, 83
LEG_ROWS = [18, 43, 68]
shapes.append(dict(type="rect", xref="paper", yref="paper", layer="above",
                   x0=fx(LEG_X0), x1=fx(LEG_X1), y0=fy(LEG_Y1), y1=fy(LEG_Y0),
                   fillcolor="white", line=dict(color="#333", width=1)))
for s, name in enumerate(SERIES_NAMES):
    st = STYLES[s]
    ly = LEG_ROWS[s]
    shapes.append(dict(type="line", xref="paper", yref="paper", layer="above",
                       x0=fx(762), x1=fx(842), y0=fy(ly), y1=fy(ly),
                       line=dict(color=st["color"], width=st["width"] + 0.3, dash=st["dash"])))
    annotations.append(dict(
        x=fx(848), y=fy(ly), xref="paper", yref="paper", text=name,
        showarrow=False, xanchor="left", yanchor="middle",
        font=dict(family=FONT, size=20, color=TXT)))

fig.update_layout(
    width=W, height=H,
    margin=dict(l=0, r=0, t=0, b=0),
    paper_bgcolor="white", plot_bgcolor="white",
    annotations=annotations,
    shapes=shapes,
    showlegend=False,
)

fig.write_html("out.html")
